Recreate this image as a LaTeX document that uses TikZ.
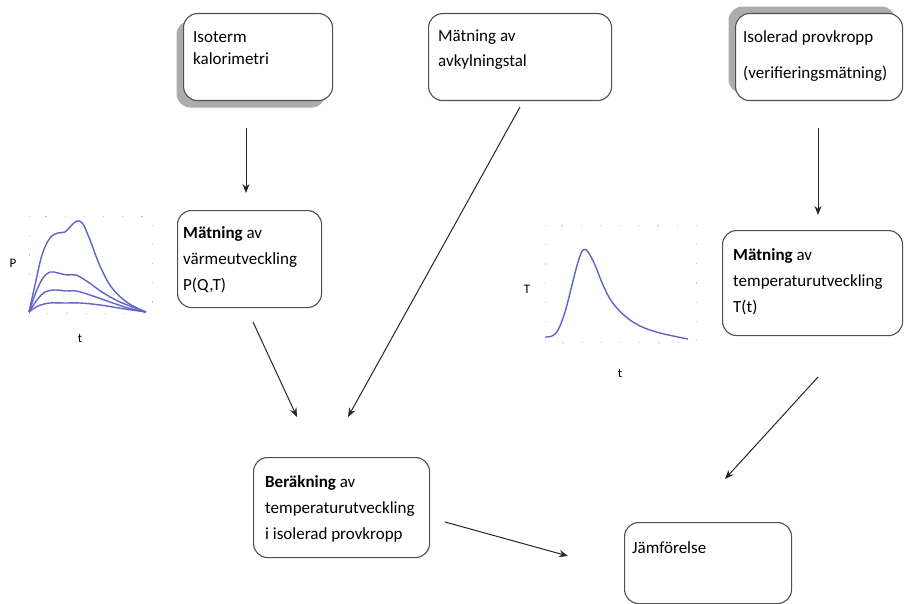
\documentclass[tikz,border=0pt]{standalone}
\usepackage{fontspec}
\setmainfont{Carlito}
\usetikzlibrary{arrows.meta,shadows}
\definecolor{boxline}{RGB}{80,80,80}
\definecolor{curve}{RGB}{98,98,205}
\definecolor{shadowgray}{RGB}{172,172,172}
\tikzset{
  box/.style={draw=boxline, line width=1.1pt, rounded corners=14pt, fill=white, inner sep=0pt, anchor=north west},
  btext/.style={anchor=base west, align=left, inner sep=0pt, font=\fontsize{17}{26}\selectfont},
  arr/.style={line width=1pt, draw=black!85, -{Stealth[length=9pt,width=7pt]}},
  plotlbl/.style={font=\fontsize{13}{15}\selectfont, inner sep=0pt},
  grid dots/.style={draw=gray!45, line width=1pt, dash pattern=on 1.2pt off 18pt},
  pcurve/.style={draw=curve, line width=1.4pt}
}
\begin{document}
\begin{tikzpicture}[x=1pt,y=-1pt]
\useasboundingbox (0,0) rectangle (904,604);
% shadows
\node[box, draw=none, fill=shadowgray, minimum width=149pt, minimum height=87pt] (s1) at (176,20) {};
\node[box, draw=none, fill=shadowgray, minimum width=167pt, minimum height=87pt] (s3) at (728,6) {};
% boxes
\node[box, minimum width=149pt, minimum height=87pt] (b1) at (183,13) {};
\node[box, minimum width=183pt, minimum height=87pt] (b2) at (428,13) {};
\node[box, minimum width=167pt, minimum height=87pt] (b3) at (735,13) {};
\node[box, minimum width=144pt, minimum height=97pt] (b4) at (177,210) {};
\node[box, minimum width=180pt, minimum height=105pt] (b5) at (722,230) {};
\node[box, minimum width=176pt, minimum height=100pt] (b6) at (253,457) {};
\node[box, minimum width=167pt, minimum height=81pt] (b7) at (624,522) {};
% texts (base anchor = baseline of last line)
\node[btext, font=\fontsize{17}{22}\selectfont] (t1) at (193,65) {Isoterm\\kalorimetri};
\node[btext, font=\fontsize{17}{25}\selectfont] (t2) at (438,67) {Mätning av\\avkylningstal};
\node[btext, font=\fontsize{17}{36}\selectfont] (t3) at (743,79) {Isolerad provkropp\\(verifieringsmätning)};
\node[btext] (t4) at (183,290) {\textbf{Mätning} av\\värmeutveckling\\P(Q,T)};
\node[btext] (t5) at (733,312) {\textbf{Mätning} av\\temperaturutveckling\\T(t)};
\node[btext] (t6) at (265,539) {\textbf{Beräkning} av\\temperaturutveckling\\i isolerad provkropp};
\node[btext] (t7) at (632,553) {Jämförelse};
% plot 1
\draw[grid dots] (29,216) rectangle (152,313);
\draw[pcurve] plot[smooth, tension=0.6] coordinates {(29,312) (35,285) (42,255) (50,238) (58,233) (65,232) (71,226) (77,221) (83,224) (90,240) (100,266) (112,288) (128,303) (146,312)};
\draw[pcurve] plot[smooth, tension=0.6] coordinates {(29,312) (36,292) (43,278) (50,272) (58,273) (67,275) (76,275) (88,282) (102,292) (120,302) (146,312)};
\draw[pcurve] plot[smooth, tension=0.6] coordinates {(29,312) (37,300) (45,292) (55,290) (66,291) (76,291) (90,295) (110,302) (128,308) (146,312)};
\draw[pcurve] plot[smooth, tension=0.6] coordinates {(29,312) (38,306) (50,303) (65,303) (80,303) (100,305) (125,309) (146,312)};
\node[plotlbl] (pP) at (13,263) {P};
\node[plotlbl] (pt1) at (80,338) {t};
% plot 2
\draw[grid dots] (545,225) rectangle (696,342);
\draw[pcurve] plot[smooth, tension=0.6] coordinates {(545,337) (552,336) (558,330) (565,312) (572,285) (578,262) (583,250) (588,252) (595,265) (603,285) (612,302) (625,316) (640,326) (660,333) (688,339)};
\node[plotlbl] (pT) at (527,289) {T};
\node[plotlbl] (pt2) at (620,373) {t};
% arrow ends
\coordinate (a1s) at (246,128); \coordinate (a1e) at (246,193);
\coordinate (a2s) at (520,107); \coordinate (a2e) at (348,417);
\coordinate (a3s) at (253,322); \coordinate (a3e) at (297,417);
\coordinate (a4s) at (818,128); \coordinate (a4e) at (818,215);
\coordinate (a5s) at (818,377); \coordinate (a5e) at (725,479);
\coordinate (a6s) at (445,522); \coordinate (a6e) at (568,556);
\draw[arr] (a1s) -- (a1e);
\draw[arr] (a2s) -- (a2e);
\draw[arr] (a3s) -- (a3e);
\draw[arr] (a4s) -- (a4e);
\draw[arr] (a5s) -- (a5e);
\draw[arr] (a6s) -- (a6e);
\end{tikzpicture}
\end{document}
